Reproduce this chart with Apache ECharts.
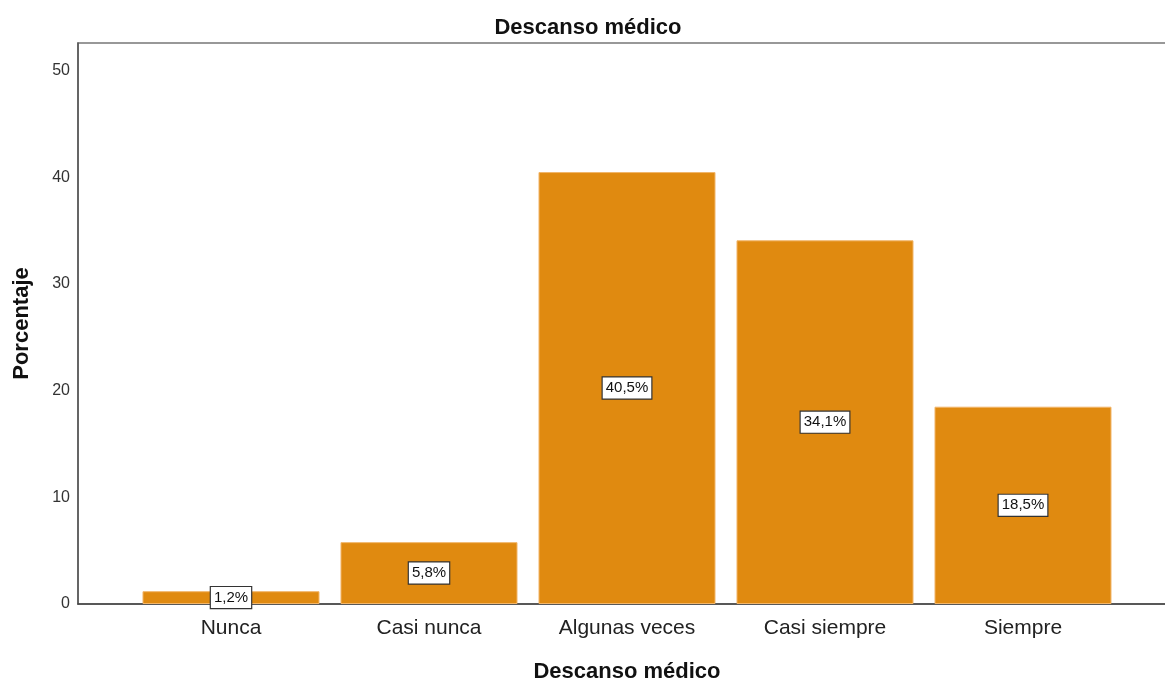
<!DOCTYPE html>
<html>
<head>
<meta charset="utf-8">
<script src="https://cdn.jsdelivr.net/npm/echarts@6/dist/echarts.min.js"></script>
<style>
  html, body { margin: 0; padding: 0; background: #fff; }
  #chart { width: 1165px; height: 682px; }
</style>
</head>
<body>
<div id="chart"></div>
<script>
// Distribución de respuestas: Descanso médico (porcentaje)
const categories = ['Nunca', 'Casi nunca', 'Algunas veces', 'Casi siempre', 'Siempre'];
const percentages = [1.2, 5.8, 40.5, 34.1, 18.5];
const yTicks = [0, 10, 20, 30, 40, 50];

const Y_MAX = 52.6;
const FONT = 'Arial, "Liberation Sans", sans-serif';

const chart = echarts.init(document.getElementById('chart'));
chart.setOption({
  animation: false,
  title: {
    text: 'Descanso médico',
    left: 583, top: 12, textAlign: 'center',
    textStyle: { fontFamily: FONT, fontSize: 22, fontWeight: 'bold', color: '#111' }
  },
  grid: [
    // bars
    { left: 132, right: 43, top: 43, bottom: 78, containLabel: false, outerBoundsMode: 'none' },
    // frame and value scale
    { left: 78, right: -2, top: 43, bottom: 78, containLabel: false, outerBoundsMode: 'none',
      show: true, borderColor: '#777', borderWidth: 1.5 }
  ],
  xAxis: [
    {
      gridIndex: 0, type: 'category', data: categories,
      axisLine: { show: false }, axisTick: { show: false },
      axisLabel: { fontFamily: FONT, fontSize: 21, color: '#222', margin: 14 },
      name: 'Descanso médico', nameLocation: 'middle', nameGap: 57,
      nameTextStyle: { fontFamily: FONT, fontSize: 22, fontWeight: 'bold', color: '#111' }
    },
    {
      gridIndex: 1, type: 'value', min: 0, max: 1,
      axisLine: { show: true, lineStyle: { color: '#444', width: 1.5 } },
      axisTick: { show: false }, axisLabel: { show: false }, splitLine: { show: false }
    }
  ],
  yAxis: [
    {
      gridIndex: 0, type: 'value', min: 0, max: Y_MAX, interval: 10,
      show: false, splitLine: { show: false }
    },
    {
      gridIndex: 1, type: 'value', min: 0, max: Y_MAX, interval: 10,
      axisLine: { show: true, lineStyle: { color: '#555', width: 1.5 } },
      axisTick: { show: false }, splitLine: { show: false },
      axisLabel: {
        fontFamily: FONT, fontSize: 16, color: '#333', margin: 8,
        formatter: v => (yTicks.includes(v) ? String(v) : '')
      },
      name: 'Porcentaje', nameLocation: 'middle', nameGap: 45, nameRotate: 90,
      nameTextStyle: { fontFamily: FONT, fontSize: 22, fontWeight: 'bold', color: '#111' }
    }
  ],
  series: [
    {
      type: 'bar', xAxisIndex: 0, yAxisIndex: 0,
      data: percentages,
      barWidth: '89.4%',
      itemStyle: { color: '#E08A10', borderColor: '#F2B66A', borderWidth: 1 },
      label: {
        show: true, position: 'inside',
        formatter: p => p.value.toFixed(1).replace('.', ',') + '%',
        fontFamily: FONT, fontSize: 15, color: '#111',
        backgroundColor: '#fff', borderColor: '#333', borderWidth: 1.2,
        padding: [4, 3, 2, 3]
      }
    }
  ]
});
</script>
</body>
</html>
